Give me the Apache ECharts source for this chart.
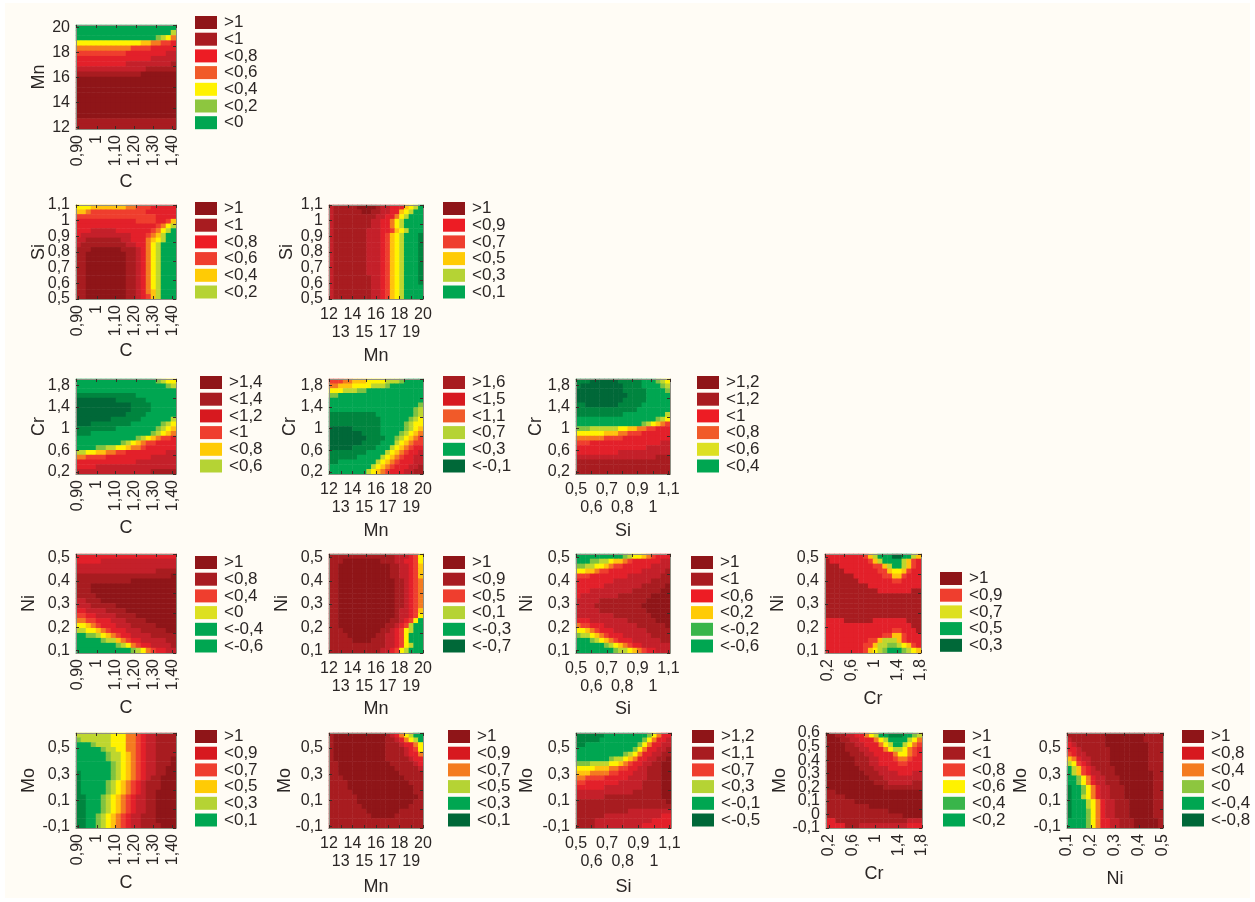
<!doctype html>
<html>
<head>
<meta charset="UTF-8">
<title></title>
<script src="https://cdn.jsdelivr.net/npm/echarts@6/dist/echarts.min.js"></script>
<style>
html,body{margin:0;padding:0;background:#fff;}
#paper{position:absolute;left:5px;top:3px;width:1245px;height:895px;background:#fffcf5;}
#main{position:absolute;left:0;top:0;width:1255px;height:902px;}
</style>
</head>
<body>
<div id="paper"></div>
<div id="main"></div>
<script>
// band codes, top row first, left to right
// 0-c = dark red .. red .. orange .. yellow .. lime .. green .. dark green
var mnC = [
"aaaaaaaaaaaaaaaaaaaa","aaaaaaaaaaaaaaaaaaa8","aaaaaaaaaaaaaaaa9875","77777777777776655443","55555555555444433333",
"44444444443333333322","33333333333333322222","33333333332222222221","22222222222222111111","11111111111110000000",
"00000000000000000000","00000000000000000000","00000000000000000000","00000000000000000000","00000000000000000000",
"00000000000000000000","00000000000000000000","00000000000000000000","11111111111111111111","11111111111111111111"];
var siC = [
"77766666665544433333","66544444444444333333","44444444444444443333","33333333333344443346","33333333333333334578",
"3332222233333334578a","322222222223334568aa","221111111223335678aa","21111111112233578aaa","11100000011123578aaa",
"11000000001123578aaa","11000000001123578aaa","11000000001123578aaa","11000000001123578aaa","11000000001123578aaa",
"11000000001123578aaa","11000000001123578aaa","11000000001123578aaa","11000000001123568aaa","11000000001123468aaa"];
var siMn = [
"2111110000122333678a","211111100112233678aa","21111111112233578aaa","2111111112233578aaaa","2111111112233578aaaa",
"21111111222334678aaa","2111111122234678aaab","2111111122234678aaab","2111111122234678aaab","2111111122234678aaab",
"2111111122234678aaab","2111111122234678aaab","2111111122234678aaab","2111111122234678aaab","2111111122234678aaab",
"2111111112234678aaab","2111111112234678aaab","2111111112234678aaaa","2111111112234678aaaa","2111111112234678aaaa"];
var crC = [
"aaaaaaaaaaaaaaaa9877","aaaaaaaaaaaaaaaaaa98","aaaaaaaaaaaaaaaaaaaa","bbbbbbbbbbbbaaaaaaaa","ccccccccbbbbbbaaaaaa",
"cccccccccccbbbbaaaaa","cccccccccccbbbbaaaaa","ccccccccccbbbbaaaaaa","cccccccbbbbbbaaaaaa8","cccbbbbbbbbaaaaaa987",
"bbbbbbbbaaaaaaaa9876","bbbaaaaaaaaaaaa98765","aaaaaaaaaaaa98765443","aaaaaaaaa98765443333","aaaa9988776554333333",
"88776655443333333322","55444433333333322222","33333333333322222222","33332222222222222222","22222222222222211111"];
var crMn = [
"4445566677778889aaaa","5566677778889aaaaaaa","77788899aaaaaaaaaaaa","99aaaaaaaaaaaaaaaaaa","aaaaaaaaaaaaaaaaaaaa",
"aaaaaaaaaaaaaaaaaaa9","aaaaaaaaaaaaaaaaaa98","bbbbbbbbbbaaaaaaaa98","bbbbbbbbbbbaaaaaa987","bbbbbbbbbbbaaaaa9877",
"cccccbbbbbbaaaaa9876","cccccccbbbbaaaa98765","ccccccccbbbbaa987654","cccccccbbbbaaa876544","cccccbbbbbaaa8765433",
"bbbbbbbbaaaa87654332","bbbbbbaaaaa876543322","bbaaaaaaaa8765433322","aaaaaaaaa87654333221","aaaaaaaa876543332211"];
var crSi = [
"bbbccccccbbbbbaaa987","bcccccccccbbbbaaaa98","ccccccccccbbbbbaaaa9","cccccccccccbbbbaaaaa","ccccccccccbbbbbaaaaa",
"bbcccccccbbbbbaaaaaa","bbbbbbbbbbbbbaaaaaaa","bbbbbbbbbbaaaaaaaaa8","aaaaaaaaaaaaaaaaa987","aaaaaaaaaaaaaa987654",
"99988888877665544333","77777766655444333333","55555544443333333333","44433333333333333322","33333333333333322222",
"33333333322222222222","22222222222222222111","11111111111111111111","11111111111111111111","11111111111111111111"];
var niC = [
"33333333333333333333","33333222222222222222","22222222222222222222","22222222222222221111","11111111111111111110",
"11111111111000000000","11100000000000000000","11100000000000000000","11110000000000000000","22111000000000000000",
"22211111000000000000","33222211110000000000","44332222111100000000","55443332221111000000","77654333222111110000",
"88776543332221111100","aa998765433222211111","aaaaa988654332222211","aaaaaaaa987543322221","aaaaaaaaaaa987543322"];
var niMn = [
"11111111111111222347","11100000000111223347","11000000000001122346","11000000000001122346","11000000000001122346",
"11000000000000112345","11000000000000112345","11000000000000112345","11000000000000112345","11000000000000112345",
"11000000000000112345","11000000000000122346","11000000000000122347","1100000000000112347a","110000000000112348aa",
"111000000001123478aa","11110000001122347aaa","11111000011122347aaa","111111111111223478aa","11111111111223478aaa"];
var niSi = [
"aaaaaaaaaa9877654333","aaa99887665433333322","99887765443333332222","77665443333333222221","44433333333222222211",
"33333333222222221111","33333322222222111110","33322222222211111100","32222222211111110000","22222111111111100000",
"22221111111111000000","22222111111111100000","22222222111111110000","33322222222111111000","54433322222221111110",
"77654333222222211111","98876543332222221111","aaa98765433322222211","aaaaaa98765433222222","aaaaaaaa988765433222"];
var niCr = [
"33333333468aaaccaa86","133333333468aaaa8643","11133333334468aa8643","11113333333446776433","11111133333344664333",
"11111113333333443333","11111111133333333333","11111111111333333311","11111111111111111111","11111111111111111111",
"11111111111111111111","11111111111111111111","11111111111111111111","33331111113333333111","33333333333333333311",
"33333333333333443331","33333333333344664333","33333333344688864333","33333333446889987643","3333333346789aaa9876"];
var moC = [
"88888887775543221111","98888887775543221111","aaa98887775543221111","aaaaa988775543221111","aaaaaa98876543221111",
"aaaaaa98876543221110","aaaaaaa9876543221110","aaaaaaa9876543221100","baaaaaa9876543221100","baaaaaa9876543211000",
"baaaaa98765432111000","baaaaa98765432111000","baaaaa98765432110000","bbaaa987654322110000","bbaaa987654322110000",
"bbaaa987654322110000","bbaaa987654322110000","bbaa9876543221110000","bbaa9876543221110000","bbaa9876543221111000"];
var moMn = [
"100000000000123578aa","1000000000001123578a","10000000000011123357","10000000000011112347","10000000000011112335",
"10000000000011111233","11000000000001111123","11000000000000111112","11000000000000011111","11100000000000001111",
"11110000000000000111","11110000000000000011","11111000000000000011","11111100000000000001","11111100000000000011",
"11111110000000000111","11111111000000011111","11111111100000111111","11111111111111111111","11111111111111111111"];
var moSi = [
"bbbbbbaaaaaaaaa97533","bbbbbaaaaaaaaa975332","bbaaaaaaaaaaa9753322","aaaaaaaaaaaa97533221","aaaaaaaaaa9875332211",
"aaaaaaa9887653322110","99988887765433221100","77776665544332211100","66655554433322211100","55444433333222211100",
"44333333322222111100","33333322222222111100","22222222222211111100","22222211111111111100","11111111111111111110",
"11111111111111111111","11111111111222222222","11111122222222222233","11112222222222223333","11112222222222333333"];
var moCr = [
"00112233578aabbbaa98","0001122333578aaaa875","00001122333578aa8754","00001112233357887543","00000111223333577543",
"00000011122333455433","00000011122333344333","00000001112223333333","00000000111222233322","00000000011122222222",
"00000000001112222211","00000000000011111111","11000000000000000000","11110000000000000000","11111100000000000000",
"11111111100000000000","11111111111110000000","11111111111111110000","33111111111111111222","33331112222222222333"];
var moNi = [
"11111111000000001111","21111111000000001111","32111111000000000111","33211111100000000111","43221111100000000111",
"65322111100000000111","87432111100000000111","a8643211110000000111","a8643221110000000011","aa975322111000000011",
"aa975322111000000011","baa97532211100000011","baa97532211100000011","baa87532211100000011","baaa8753221110000011",
"baaa8753221110000011","baaa9753221110000011","baaa9753221110000011","aaaa9753322111000001","aaaa9753322111000001"];

// legend texts
var legMnC = ['>1','<1','<0,8','<0,6','<0,4','<0,2','<0'];
var legSiC = ['>1','<1','<0,8','<0,6','<0,4','<0,2'];
var legSiMn = ['>1','<0,9','<0,7','<0,5','<0,3','<0,1'];
var legCrC = ['>1,4','<1,4','<1,2','<1','<0,8','<0,6'];
var legCrMn = ['>1,6','<1,5','<1,1','<0,7','<0,3','<-0,1'];
var legCrSi = ['>1,2','<1,2','<1','<0,8','<0,6','<0,4'];
var legNiC = ['>1','<0,8','<0,4','<0','<-0,4','<-0,6'];
var legNiMn = ['>1','<0,9','<0,5','<0,1','<-0,3','<-0,7'];
var legNiSi = ['>1','<1','<0,6','<0,2','<-0,2','<-0,6'];
var legNiCr = ['>1','<0,9','<0,7','<0,5','<0,3'];
var legMoC = ['>1','<0,9','<0,7','<0,5','<0,3','<0,1'];
var legMoMn = ['>1','<0,9','<0,7','<0,5','<0,3','<0,1'];
var legMoSi = ['>1,2','<1,1','<0,7','<0,3','<-0,1','<-0,5'];
var legMoCr = ['>1','<1','<0,8','<0,6','<0,4','<0,2'];
var legMoNi = ['>1','<0,8','<0,4','<0','<-0,4','<-0,8'];

// axis ticks
var cTicks = [0.9,1,1.1,1.2,1.3,1.4];
var cLabels = ['0,90','1','1,10','1,20','1,30','1,40'];
var mnTicks = [12,13,14,15,16,17,18,19,20];
var mnLabels = ['12','13','14','15','16','17','18','19','20'];
var mnYTicks = [12,14,16,18,20];
var mnYLabels = ['12','14','16','18','20'];
var siTicks = [0.5,0.6,0.7,0.8,0.9,1,1.1];
var siLabels = ['0,5','0,6','0,7','0,8','0,9','1','1,1'];
var crTicks = [0.2,0.6,1,1.4,1.8];
var crLabels = ['0,2','0,6','1','1,4','1,8'];
var niTicks = [0.1,0.2,0.3,0.4,0.5];
var niLabels = ['0,1','0,2','0,3','0,4','0,5'];
var moTicks = [-0.1,0.1,0.3,0.5];
var moLabels = ['-0,1','0,1','0,3','0,5'];
var moFineTicks = [-0.1,0,0.1,0.2,0.3,0.4,0.5,0.6];
var moFineLabels = ['-0,1','0','0,1','0,2','0,3','0,4','0,5','0,6'];

var FONT = '"Liberation Sans",sans-serif';
var TEXT = '#2b2625';
var ramp = ['#8f1518','#a81c20','#c4202a','#e3202a','#ef3e2e','#f47b20','#ffc20e','#fff200','#bed62f','#7fc241','#00a651','#00853f','#006838'];

var DR='#8f1518',R1='#a81c20',R2='#d7191f',R3='#ed1c24',O1='#ef3e2e',O2='#f15a29',O3='#f47b20',AM='#ffcb05',YE='#fff200',YL='#dde021',LI='#b5d334',LG='#8dc63f',G1='#39b54a',GR='#00a651',DG='#006838';

var xC = {name:'C',min:0.89,max:1.42,ticks:cTicks,labels:cLabels,rotate:90};
var xMn = {name:'Mn',min:12,max:20,ticks:mnTicks,labels:mnLabels,split:true,margin2:28};
var xSi = {name:'Si',min:0.5,max:1.11,ticks:siTicks,labels:siLabels,split:true,margin2:28};
var xCr = {name:'Cr',min:0.15,max:1.8,ticks:crTicks,labels:crLabels,rotate:90};
var xNi = {name:'Ni',min:0.1,max:0.5,ticks:niTicks,labels:niLabels,rotate:90};
var yMn = {name:'Mn',min:11.9,max:20.2,ticks:mnYTicks,labels:mnYLabels};
var ySi = {name:'Si',min:0.5,max:1.1,ticks:siTicks,labels:siLabels,split:true,margin2:6};
var yCr = {name:'Cr',min:0.16,max:1.92,ticks:crTicks,labels:crLabels};
var yNi = {name:'Ni',min:0.09,max:0.515,ticks:niTicks,labels:niLabels};
var yMo = {name:'Mo',min:-0.11,max:0.615,ticks:moTicks,labels:moLabels};
var yMoFine = {name:'Mo',min:-0.1,max:0.6,ticks:moFineTicks,labels:moFineLabels,split:true,margin2:6};

var panels = [
	{rows:mnC,x:xC,y:yMn,box:[76,25,100,104],xGap:44,yGap:28,leg:legMnC,colors:[DR,R1,R3,O2,YE,LG,GR],legPos:[195,16]},
	{rows:siC,x:xC,y:ySi,box:[76,205,100,94],xGap:43,yGap:28,leg:legSiC,colors:[DR,R1,R3,O1,AM,LI],legPos:[195,202]},
	{rows:siMn,x:xMn,y:ySi,box:[329,205,94,94],xGap:48,yGap:33,leg:legSiMn,colors:[DR,R3,O1,AM,LI,GR],legPos:[443,202]},
	{rows:crC,x:xC,y:yCr,box:[76,379,100,95],xGap:45,yGap:28,leg:legCrC,colors:[DR,R1,R2,O1,AM,LI],legPos:[200,376]},
	{rows:crMn,x:xMn,y:yCr,box:[329,379,94,95],xGap:48,yGap:30,leg:legCrMn,colors:[R1,R2,O2,LI,GR,DG],legPos:[443,376]},
	{rows:crSi,x:xSi,y:yCr,box:[576,379,94,95],xGap:48,yGap:31,leg:legCrSi,colors:[DR,R1,R3,O2,YL,GR],legPos:[697,376]},
	{rows:niC,x:xC,y:yNi,box:[76,554,100,99],xGap:46,yGap:38,leg:legNiC,colors:[DR,R1,O1,YL,GR,GR],legPos:[195,556]},
	{rows:niMn,x:xMn,y:yNi,box:[329,554,94,99],xGap:47,yGap:38,leg:legNiMn,colors:[DR,R1,O1,LI,GR,DG],legPos:[443,556]},
	{rows:niSi,x:xSi,y:yNi,box:[576,554,94,99],xGap:47,yGap:40,leg:legNiSi,colors:[DR,R1,R3,AM,G1,GR],legPos:[691,556]},
	{rows:niCr,x:xCr,y:yNi,box:[825,554,96,99],xGap:37,yGap:38,leg:legNiCr,colors:[DR,O1,YL,GR,DG],legPos:[940,572]},
	{rows:moC,x:xC,y:yMo,box:[76,733,100,95],xGap:46,yGap:38,leg:legMoC,colors:[DR,R2,O1,AM,LI,GR],legPos:[195,730]},
	{rows:moMn,x:xMn,y:yMo,box:[329,733,94,95],xGap:50,yGap:35,leg:legMoMn,colors:[DR,R2,O3,LI,GR,DG],legPos:[448,730]},
	{rows:moSi,x:xSi,y:yMo,box:[576,733,95,95],xGap:50,yGap:40,leg:legMoSi,colors:[DR,R1,O1,LI,GR,DG],legPos:[692,730]},
	{rows:moCr,x:xCr,y:yMoFine,box:[826,733,96,95],xGap:37,yGap:37,leg:legMoCr,colors:[DR,R1,O1,YE,G1,GR],legPos:[943,730]},
	{rows:moNi,x:xNi,y:yMo,box:[1067,733,96,95],xGap:42,yGap:37,leg:legMoNi,colors:[DR,R2,O3,LG,GR,DG],legPos:[1182,730]}
];

var frame = {show:true,onZero:false,lineStyle:{color:'#8f8f84',width:1}};
var tickLine = {color:'#3a2c26',width:1};

function catAxis(gridIndex,position){
	var names = [];
	for(var i=0;i<20;i++) names.push(i);
	return {
		type:'category',gridIndex:gridIndex,position:position,data:names,z:5,
		axisLine:frame,axisLabel:{show:false},splitLine:{show:false},
		axisTick:{show:true,inside:true,length:3,interval:3,lineStyle:tickLine}
	};
}

// ticks here is the part of the tick list that carries a label on this axis
function valueAxis(gridIndex,position,spec,ticks,labels,margin,name,gap){
	var label = {
		show:true,fontFamily:FONT,fontSize:16,color:TEXT,margin:margin,lineHeight:12,
		customValues:ticks,hideOverlap:false,showMinLabel:true,showMaxLabel:true,
		formatter:function(v){ return labels[ticks.indexOf(v)]; }
	};
	if(spec.rotate) label.rotate = spec.rotate;
	var axis = {
		type:'value',gridIndex:gridIndex,position:position,min:spec.min,max:spec.max,z:5,
		axisLine:frame,splitLine:{show:false},
		axisTick:{show:true,inside:true,length:3,lineStyle:tickLine,customValues:spec.ticks},
		axisLabel:label
	};
	if(name){
		axis.name = name;
		axis.nameLocation = 'middle';
		axis.nameGap = gap;
		axis.nameMoveOverlap = false;
		axis.nameTextStyle = {fontFamily:FONT,fontSize:18,color:TEXT};
	}
	return axis;
}

function everyOther(list,start){
	return list.filter(function(v,i){ return i%2==start; });
}

// dense tick lists go on two axes so echarts does not drop labels next to min/max
function pushValueAxes(out,gridIndex,position,spec,margin,gap){
	if(spec.split){
		out.push(valueAxis(gridIndex,position,spec,everyOther(spec.ticks,0),everyOther(spec.labels,0),margin,spec.name,gap));
		out.push(valueAxis(gridIndex,position,spec,everyOther(spec.ticks,1),everyOther(spec.labels,1),spec.margin2));
	}else{
		out.push(valueAxis(gridIndex,position,spec,spec.ticks,spec.labels,margin,spec.name,gap));
	}
}

var grids=[],xAxes=[],yAxes=[],series=[],maps=[];
var heatIdx=[];
panels.forEach(function(p,i){
	grids.push({left:p.box[0],top:p.box[1],width:p.box[2],height:p.box[3],show:false});
	var catX = xAxes.length, catY = yAxes.length;
	xAxes.push(catAxis(i,'top'));
	pushValueAxes(xAxes,i,'bottom',p.x,p.x.split?10:6,p.xGap);
	yAxes.push(catAxis(i,'right'));
	pushValueAxes(yAxes,i,'left',p.y,6,p.yGap);
	var data=[];
	p.rows.forEach(function(row,r){
		for(var c=0;c<row.length;c++) data.push([c,19-r,parseInt(row.charAt(c),16)]);
	});
	heatIdx.push(series.length);
	series.push({type:'heatmap',xAxisIndex:catX,yAxisIndex:catY,data:data,silent:true,progressive:0,animation:false,z:2});
});
// legends hang on an empty series, the plot colours come from the shared ramp
series.push({type:'heatmap',xAxisIndex:0,yAxisIndex:0,data:[],silent:true});
var dummy = series.length-1;

maps.push({
	type:'piecewise',show:false,dimension:2,seriesIndex:heatIdx,
	pieces:ramp.map(function(c,i){return {value:i,color:c};})
});
panels.forEach(function(p){
	maps.push({
		type:'piecewise',seriesIndex:dummy,left:p.legPos[0],top:p.legPos[1]-2,orient:'vertical',align:'left',
		inverse:true,selectedMode:false,hoverLink:false,padding:0,
		itemWidth:22,itemHeight:13,itemGap:-0.3,textGap:7,itemSymbol:'rect',
		textStyle:{fontFamily:FONT,fontSize:17,color:TEXT},
		pieces:p.leg.map(function(t,i){return {value:i,label:t,color:p.colors[i]};})
	});
});

var chart = echarts.init(document.getElementById('main'));
chart.setOption({
	animation:false,
	grid:grids,xAxis:xAxes,yAxis:yAxes,visualMap:maps,series:series
});
</script>
</body>
</html>
